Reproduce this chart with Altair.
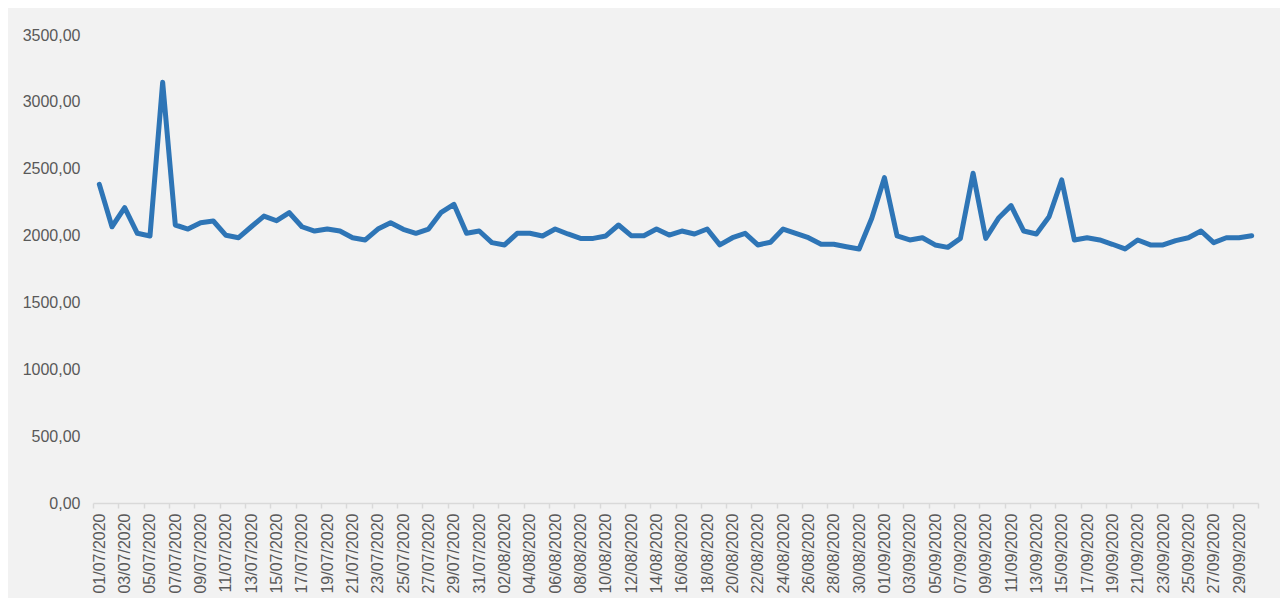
import json
import altair as alt
import pandas as pd

# Category labels (daily dates)
dates = list(pd.date_range("2020-07-01", "2020-09-30", freq="D").strftime("%d/%m/%Y"))

# Values
values = [
    2383, 2066, 2209, 2017, 1997, 3146, 2079, 2049, 2096, 2109,
    2002, 1984, 2066, 2146, 2111, 2171, 2066, 2034, 2049, 2034,
    1984, 1967, 2049, 2096, 2047, 2017, 2049, 2174, 2234, 2017,
    2034, 1947, 1930, 2017, 2017, 1997, 2049, 2012, 1979, 1979,
    1997, 2079, 1999, 1999, 2049, 2004, 2034, 2012, 2049, 1930,
    1984, 2017, 1930, 1950, 2049, 2017, 1984, 1935, 1935, 1917,
    1900, 2129, 2433, 1997, 1967, 1984, 1930, 1912, 1979, 2466,
    1979, 2129, 2224, 2034, 2012, 2141, 2416, 1967, 1984, 1967,
    1935, 1900, 1967, 1930, 1930, 1962, 1984, 2034, 1947, 1984,
    1984, 1999,
]

y_ticks = [0, 500, 1000, 1500, 2000, 2500, 3000, 3500]

df = pd.DataFrame({"idx": list(range(len(dates))), "date": dates, "value": values})

n = len(dates)
W, H = 1165, 468
tick_vals = [i - 0.5 for i in range(0, n + 1, 2)]
label_expr = (
    f"datum.value < {n - 1} ? {json.dumps(dates)}[round(datum.value + 0.5)] : ''"
)

TEXT = "#595959"
FONT = "Liberation Sans"

chart = (
    alt.Chart(df)
    .mark_line(color="#2e75b6", strokeWidth=5, strokeCap="round", strokeJoin="round")
    .encode(
        x=alt.X(
            "idx:Q",
            scale=alt.Scale(domain=[-0.5, n - 0.5], nice=False, zero=False),
            axis=alt.Axis(
                title=None,
                values=tick_vals,
                labelExpr=label_expr,
                labelAngle=270,
                labelOffset=W / n / 2,
                labelFlush=False,
                labelOverlap=False,
                labelBound=False,
                labelPadding=5,
                labelFont=FONT,
                labelFontSize=16,
                labelColor=TEXT,
                grid=False,
                domainColor="#d9d9d9",
                domainWidth=1.5,
                tickColor="#d9d9d9",
                tickWidth=1.5,
                tickSize=5,
            ),
        ),
        y=alt.Y(
            "value:Q",
            scale=alt.Scale(domain=[0, 3500], nice=False),
            axis=alt.Axis(
                title=None,
                values=y_ticks,
                labelExpr="replace(format(datum.value, '.2f'), '.', ',')",
                labelFont=FONT,
                labelFontSize=16,
                labelColor=TEXT,
                labelPadding=13,
                ticks=False,
                tickSize=0,
                domain=False,
                grid=False,
            ),
        ),
        tooltip=["date:N", "value:Q"],
    )
    .properties(
        width=W,
        height=H,
        autosize=alt.AutoSizeParams(type="none"),
        padding={"left": 85, "top": 27, "right": 22, "bottom": 95},
        background="#f2f2f2",
    )
    .configure_view(fill="#f2f2f2", stroke=None)
)

chart.save("out.html", embed_options={"renderer": "svg", "actions": False})
